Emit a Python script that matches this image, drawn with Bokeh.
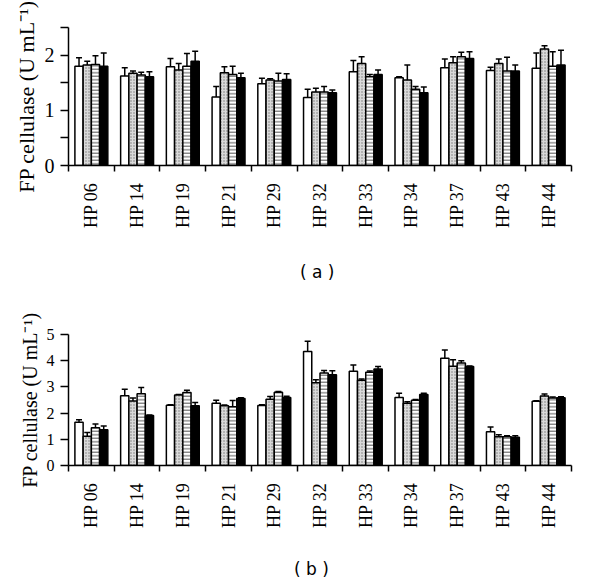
import math
from bokeh.plotting import figure
from bokeh.models import ColumnDataSource, Whisker, FixedTicker, Div, TeeHead, CustomJSTickFormatter
from bokeh.layouts import column
from bokeh.embed import file_html
from bokeh.resources import INLINE

strains = ["HP 06", "HP 14", "HP 19", "HP 21", "HP 29", "HP 32", "HP 33", "HP 34", "HP 37", "HP 43", "HP 44"]

# Panel (a)
a_white = [1.80, 1.62, 1.79, 1.24, 1.48, 1.23, 1.70, 1.59, 1.77, 1.72, 1.76]
a_white_err = [0.15, 0.15, 0.15, 0.19, 0.10, 0.15, 0.20, 0.02, 0.16, 0.06, 0.28]
a_dot = [1.82, 1.67, 1.73, 1.68, 1.55, 1.33, 1.85, 1.55, 1.86, 1.85, 2.11]
a_dot_err = [0.07, 0.04, 0.12, 0.11, 0.02, 0.07, 0.12, 0.27, 0.11, 0.08, 0.06]
a_hline = [1.83, 1.64, 1.80, 1.65, 1.53, 1.33, 1.61, 1.38, 1.97, 1.71, 1.80]
a_hline_err = [0.16, 0.05, 0.23, 0.15, 0.14, 0.10, 0.04, 0.05, 0.08, 0.25, 0.26]
a_black = [1.80, 1.61, 1.89, 1.59, 1.56, 1.32, 1.65, 1.32, 1.94, 1.71, 1.82]
a_black_err = [0.24, 0.09, 0.18, 0.08, 0.10, 0.05, 0.08, 0.10, 0.12, 0.11, 0.27]

# Panel (b)
b_white = [1.65, 2.66, 2.30, 2.38, 2.29, 4.35, 3.60, 2.60, 4.09, 1.29, 2.45]
b_white_err = [0.10, 0.25, 0.02, 0.11, 0.03, 0.39, 0.24, 0.16, 0.32, 0.18, 0.02]
b_dot = [1.12, 2.46, 2.69, 2.28, 2.53, 3.16, 3.25, 2.38, 3.79, 1.10, 2.65]
b_dot_err = [0.14, 0.12, 0.02, 0.03, 0.10, 0.11, 0.05, 0.05, 0.25, 0.07, 0.08]
b_hline = [1.44, 2.74, 2.79, 2.24, 2.80, 3.53, 3.56, 2.49, 3.91, 1.10, 2.58]
b_hline_err = [0.14, 0.24, 0.08, 0.24, 0.02, 0.10, 0.05, 0.03, 0.09, 0.04, 0.03]
b_black = [1.36, 1.91, 2.28, 2.56, 2.60, 3.46, 3.68, 2.71, 3.78, 1.08, 2.59]
b_black_err = [0.15, 0.02, 0.12, 0.03, 0.04, 0.16, 0.10, 0.05, 0.02, 0.06, 0.03]

a_yticks = [0, 1, 2]
a_yminor = [0.5, 1.5, 2.5]
b_yticks = [0, 1, 2, 3, 4, 5]

SERIF = "Liberation Serif"
BAR_W = 0.18
STYLES = [
    dict(fill_color="white"),
    dict(fill_color="#d9d9d9", hatch_pattern=".", hatch_color="#777777", hatch_scale=3, hatch_weight=1),
    dict(fill_color="white", hatch_pattern="-", hatch_color="#555555", hatch_scale=3.5, hatch_weight=1),
    dict(fill_color="black"),
]


def make_panel(series, ymax, yticks, yminor, frame_h, top_b, bottom_b, ytick_fs, ylabel_fs):
    p = figure(output_backend="svg", toolbar_location=None,
               x_range=(0, len(strains)), y_range=(0, ymax),
               frame_width=503, frame_height=frame_h,
               min_border_left=68, min_border_right=13,
               min_border_top=top_b, min_border_bottom=bottom_b)
    p.outline_line_color = None
    p.grid.grid_line_color = None
    p.background_fill_color = "white"
    offsets = [-1.5, -0.5, 0.5, 1.5]
    for k, (vals, errs) in enumerate(series):
        xs = [i + 0.5 + offsets[k] * BAR_W for i in range(len(strains))]
        src = ColumnDataSource(dict(x=xs, top=vals,
                                    lo=[v - e for v, e in zip(vals, errs)],
                                    hi=[v + e for v, e in zip(vals, errs)]))
        p.vbar(x="x", top="top", width=BAR_W, bottom=0, source=src,
               line_color="black", line_width=1.5, **STYLES[k])
        w = Whisker(base="x", lower="lo", upper="hi", source=src,
                    line_color="black", line_width=1.5,
                    upper_head=TeeHead(size=6, line_width=1.5, line_color="black"),
                    lower_head=TeeHead(size=6, line_width=1.5, line_color="black"))
        p.add_layout(w)

    xa = p.xaxis[0]
    xa.ticker = FixedTicker(ticks=[i + 0.5 for i in range(len(strains))],
                            minor_ticks=list(range(len(strains) + 1)))
    xa.formatter = CustomJSTickFormatter(args=dict(names=strains),
                                         code="return names[Math.floor(tick)];")
    xa.major_label_orientation = math.pi / 2
    xa.major_tick_line_color = None
    xa.major_tick_out = 0
    xa.major_tick_in = 0
    xa.minor_tick_out = 6
    xa.minor_tick_in = 0
    xa.minor_tick_line_color = "black"
    xa.minor_tick_line_width = 1.5
    xa.axis_line_width = 1.5
    xa.axis_line_color = "black"
    xa.major_label_standoff = 11
    xa.major_label_text_font = SERIF
    xa.major_label_text_font_size = "18px"
    xa.major_label_text_color = "black"

    ya = p.yaxis[0]
    ya.ticker = FixedTicker(ticks=yticks, minor_ticks=yminor)
    ya.major_tick_out = 8
    ya.major_tick_in = 0
    ya.minor_tick_out = 8
    ya.minor_tick_in = 0
    ya.major_tick_line_width = 1.5
    ya.minor_tick_line_width = 1.5
    ya.minor_tick_line_color = "black"
    ya.axis_line_width = 1.5
    ya.axis_line_color = "black"
    ya.major_label_standoff = 6
    ya.major_label_text_font = SERIF
    ya.major_label_text_font_size = ytick_fs
    ya.major_label_text_color = "black"
    ya.axis_label = "FP cellulase (U mL\u207b\u00b9)"
    ya.axis_label_text_font = SERIF
    ya.axis_label_text_font_style = "normal"
    ya.axis_label_text_font_size = ylabel_fs
    ya.axis_label_text_color = "black"
    ya.axis_label_standoff = 3
    return p


pa = make_panel([(a_white, a_white_err), (a_dot, a_dot_err), (a_hline, a_hline_err), (a_black, a_black_err)],
                2.5, a_yticks, a_yminor, 138, 27, 89, "20px", "22px")
pb = make_panel([(b_white, b_white_err), (b_dot, b_dot_err), (b_hline, b_hline_err), (b_black, b_black_err)],
                5, b_yticks, [], 131, 42, 85, "16px", "20px")

cap_style = {"font-family": "DejaVu Sans", "font-size": "17px", "color": "black", "line-height": "20px"}
div_a = Div(text="( a )", width=584, height=28,
            styles=dict(cap_style, **{"padding-left": "295px", "padding-top": "3px"}))
div_b = Div(text="( b )", width=584, height=22,
            styles=dict(cap_style, **{"padding-left": "289px", "padding-top": "4px"}))

layout = column(pa, div_a, pb, div_b, spacing=0)
open("out.html", "w").write(file_html(layout, INLINE))
